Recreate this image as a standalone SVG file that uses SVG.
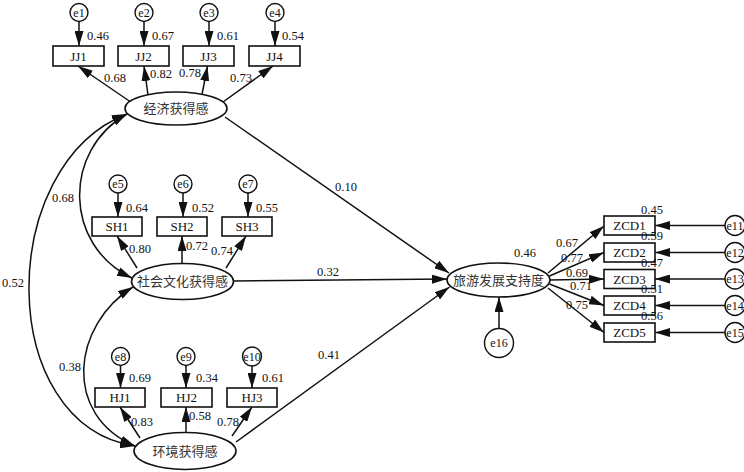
<svg xmlns="http://www.w3.org/2000/svg" width="744" height="472" viewBox="0 0 744 472" font-family="'Liberation Serif', 'Times New Roman', 'DejaVu Serif', 'Noto Sans CJK SC', serif">
<defs>
<style>
text{font-family:'Liberation Serif','Times New Roman','DejaVu Serif','Noto Sans CJK SC',serif;fill:#111;}
.box{fill:#fff;stroke:#111;stroke-width:1.6;}
.ell{fill:#fff;stroke:#111;stroke-width:1.6;}
.err{fill:#fff;stroke:#111;stroke-width:1.4;}
.bt{font-size:13px;text-anchor:middle;}
.et{font-size:12px;text-anchor:middle;}
.ct{font-size:13px;text-anchor:middle;fill:#333;}
.lb{font-size:12.5px;text-anchor:middle;}
.c line,.c path{stroke:#111;stroke-width:1.5;fill:none;marker-end:url(#ah);}
.c path.dbl{marker-start:url(#ah);}
</style>
<marker id="ah" markerUnits="userSpaceOnUse" markerWidth="15" markerHeight="9" viewBox="0 0 15 9" refX="15" refY="4.5" orient="auto-start-reverse"><path d="M0,0 L15,4.5 L0,9 z" fill="#111"/></marker>
</defs>
<rect width="744" height="472" fill="#fff"/>

<g id="connectors" class="c">
<line x1="79" y1="21.5" x2="79" y2="46"/>
<line x1="144" y1="21.5" x2="144" y2="46"/>
<line x1="209" y1="21.5" x2="209" y2="46"/>
<line x1="275" y1="21.5" x2="275" y2="46"/>
<line x1="130" y1="101.5" x2="78" y2="66"/>
<line x1="148" y1="95" x2="144" y2="66"/>
<line x1="202" y1="94.5" x2="207.5" y2="66"/>
<line x1="223" y1="102" x2="273" y2="66"/>
<line x1="118" y1="193" x2="118" y2="217"/>
<line x1="183" y1="193" x2="183" y2="217"/>
<line x1="248" y1="193" x2="248" y2="217"/>
<line x1="137" y1="268" x2="117" y2="236"/>
<line x1="182" y1="263.5" x2="182" y2="236"/>
<line x1="226" y1="268" x2="246" y2="236"/>
<line x1="120.5" y1="365.5" x2="120.5" y2="388"/>
<line x1="186" y1="365.5" x2="186" y2="388"/>
<line x1="252" y1="365.5" x2="252" y2="388"/>
<line x1="140" y1="438" x2="120" y2="407"/>
<line x1="186" y1="432" x2="186" y2="407"/>
<line x1="232" y1="436" x2="252" y2="407"/>
<line x1="225" y1="117" x2="449" y2="273"/>
<line x1="233.5" y1="281" x2="447" y2="279"/>
<line x1="236" y1="442" x2="449.5" y2="287"/>
<line x1="499" y1="328.5" x2="499" y2="297"/>
<line x1="548" y1="273" x2="604" y2="226"/>
<line x1="549.5" y1="276" x2="604" y2="252.5"/>
<line x1="550" y1="280" x2="604" y2="279"/>
<line x1="549.5" y1="284" x2="604" y2="305.5"/>
<line x1="548" y1="288" x2="604" y2="332.5"/>
<line x1="725" y1="225.5" x2="655" y2="225.5"/>
<line x1="725" y1="252.5" x2="655" y2="252.5"/>
<line x1="725" y1="279" x2="655" y2="279"/>
<line x1="725" y1="305.5" x2="655" y2="305.5"/>
<line x1="725" y1="332.5" x2="655" y2="332.5"/>
<path class="dbl" d="M127,114 C63,150 63,245 132,278"/>
<path class="dbl" d="M127,114 C-5,165 -5,425 135,446"/>
<path class="dbl" d="M133,287 C72,325 62,415 135,446"/>
</g>

<g id="labels">
<text class="lb" x="98" y="40">0.46</text>
<text class="lb" x="163" y="40">0.67</text>
<text class="lb" x="228" y="40">0.61</text>
<text class="lb" x="293" y="40">0.54</text>
<text class="lb" x="115" y="82">0.68</text>
<text class="lb" x="161" y="78">0.82</text>
<text class="lb" x="190" y="77">0.78</text>
<text class="lb" x="241" y="82">0.73</text>
<text class="lb" x="137" y="212">0.64</text>
<text class="lb" x="203" y="212">0.52</text>
<text class="lb" x="267" y="212">0.55</text>
<text class="lb" x="140" y="253">0.80</text>
<text class="lb" x="197" y="250">0.72</text>
<text class="lb" x="222" y="255">0.74</text>
<text class="lb" x="140" y="382">0.69</text>
<text class="lb" x="207" y="382">0.34</text>
<text class="lb" x="273" y="382">0.61</text>
<text class="lb" x="142" y="426">0.83</text>
<text class="lb" x="200" y="420">0.58</text>
<text class="lb" x="228" y="426">0.78</text>
<text class="lb" x="346" y="191">0.10</text>
<text class="lb" x="328" y="276">0.32</text>
<text class="lb" x="329" y="359">0.41</text>
<text class="lb" x="63" y="202">0.68</text>
<text class="lb" x="13" y="287">0.52</text>
<text class="lb" x="70" y="371">0.38</text>
<text class="lb" x="525" y="257">0.46</text>
<text class="lb" x="567" y="247">0.67</text>
<text class="lb" x="572" y="262">0.77</text>
<text class="lb" x="577" y="277">0.69</text>
<text class="lb" x="581" y="290">0.71</text>
<text class="lb" x="577" y="309">0.75</text>
</g>

<g id="e1"><circle class="err" cx="79" cy="12.5" r="9"/><text class="et" x="79" y="16.5">e1</text></g>
<g id="e2"><circle class="err" cx="144" cy="12.5" r="9"/><text class="et" x="144" y="16.5">e2</text></g>
<g id="e3"><circle class="err" cx="209" cy="12.5" r="9"/><text class="et" x="209" y="16.5">e3</text></g>
<g id="e4"><circle class="err" cx="275" cy="12.5" r="9"/><text class="et" x="275" y="16.5">e4</text></g>

<g id="JJ1"><rect class="box" x="53" y="46" width="51" height="20"/><text class="bt" x="78.5" y="60.5">JJ1</text></g>
<g id="JJ2"><rect class="box" x="118" y="46" width="51" height="20"/><text class="bt" x="143.5" y="60.5">JJ2</text></g>
<g id="JJ3"><rect class="box" x="183" y="46" width="51" height="20"/><text class="bt" x="208.5" y="60.5">JJ3</text></g>
<g id="JJ4"><rect class="box" x="249" y="46" width="51" height="20"/><text class="bt" x="274.5" y="60.5">JJ4</text></g>

<g id="jingji"><ellipse class="ell" cx="176" cy="108.5" rx="51" ry="16.5"/><text class="ct" x="176" y="113.3">经济获得感</text></g>

<g id="e5"><circle class="err" cx="118" cy="184" r="9"/><text class="et" x="118" y="188">e5</text></g>
<g id="e6"><circle class="err" cx="183" cy="184" r="9"/><text class="et" x="183" y="188">e6</text></g>
<g id="e7"><circle class="err" cx="248" cy="184" r="9"/><text class="et" x="248" y="188">e7</text></g>

<g id="SH1"><rect class="box" x="92" y="217" width="50" height="19"/><text class="bt" x="117" y="231">SH1</text></g>
<g id="SH2"><rect class="box" x="157" y="217" width="50" height="19"/><text class="bt" x="182" y="231">SH2</text></g>
<g id="SH3"><rect class="box" x="222" y="217" width="50" height="19"/><text class="bt" x="247" y="231">SH3</text></g>

<g id="shehui"><ellipse class="ell" cx="182.5" cy="281.5" rx="51" ry="18"/><text class="ct" x="182.5" y="286.3">社会文化获得感</text></g>

<g id="e8"><circle class="err" cx="120.5" cy="356.5" r="9"/><text class="et" x="120.5" y="360.5">e8</text></g>
<g id="e9"><circle class="err" cx="186" cy="356.5" r="9"/><text class="et" x="186" y="360.5">e9</text></g>
<g id="e10"><circle class="err" cx="252" cy="356.5" r="9.5"/><text class="et" x="252" y="360.5">e10</text></g>

<g id="HJ1"><rect class="box" x="95" y="388" width="50" height="19"/><text class="bt" x="120" y="402">HJ1</text></g>
<g id="HJ2"><rect class="box" x="161" y="388" width="51" height="19"/><text class="bt" x="186.5" y="402">HJ2</text></g>
<g id="HJ3"><rect class="box" x="227" y="388" width="50" height="19"/><text class="bt" x="252" y="402">HJ3</text></g>

<g id="huanjing"><ellipse class="ell" cx="185" cy="451" rx="51" ry="18.5"/><text class="ct" x="185" y="455.8">环境获得感</text></g>

<g id="lvyou"><ellipse class="ell" cx="498.5" cy="280" rx="51.5" ry="17"/><text class="ct" x="498.5" y="284.8">旅游发展支持度</text></g>
<g id="e16"><circle class="err" cx="499" cy="343" r="14.5"/><text class="et" x="499" y="347">e16</text></g>

<g id="ZCD1"><rect class="box" x="604" y="216" width="51" height="19"/><text class="bt" x="629.5" y="230">ZCD1</text></g>
<g id="ZCD2"><rect class="box" x="604" y="243" width="51" height="19"/><text class="bt" x="629.5" y="257">ZCD2</text></g>
<g id="ZCD3"><rect class="box" x="604" y="269.5" width="51" height="19"/><text class="bt" x="629.5" y="283.5">ZCD3</text></g>
<g id="ZCD4"><rect class="box" x="604" y="296" width="51" height="19"/><text class="bt" x="629.5" y="310">ZCD4</text></g>
<g id="ZCD5"><rect class="box" x="604" y="323" width="51" height="19"/><text class="bt" x="629.5" y="337">ZCD5</text></g>

<g id="zcdlabels">
<text class="lb" x="652" y="214">0.45</text>
<text class="lb" x="652" y="240">0.59</text>
<text class="lb" x="652" y="267">0.47</text>
<text class="lb" x="652" y="293">0.51</text>
<text class="lb" x="652" y="320">0.56</text>
</g>

<g id="e11"><circle class="err" cx="735" cy="225.5" r="10"/><text class="et" x="735" y="229.5">e11</text></g>
<g id="e12"><circle class="err" cx="735" cy="252.5" r="10"/><text class="et" x="735" y="256.5">e12</text></g>
<g id="e13"><circle class="err" cx="735" cy="279" r="10"/><text class="et" x="735" y="283">e13</text></g>
<g id="e14"><circle class="err" cx="735" cy="305.5" r="10"/><text class="et" x="735" y="309.5">e14</text></g>
<g id="e15"><circle class="err" cx="735" cy="332.5" r="10"/><text class="et" x="735" y="336.5">e15</text></g>
</svg>
